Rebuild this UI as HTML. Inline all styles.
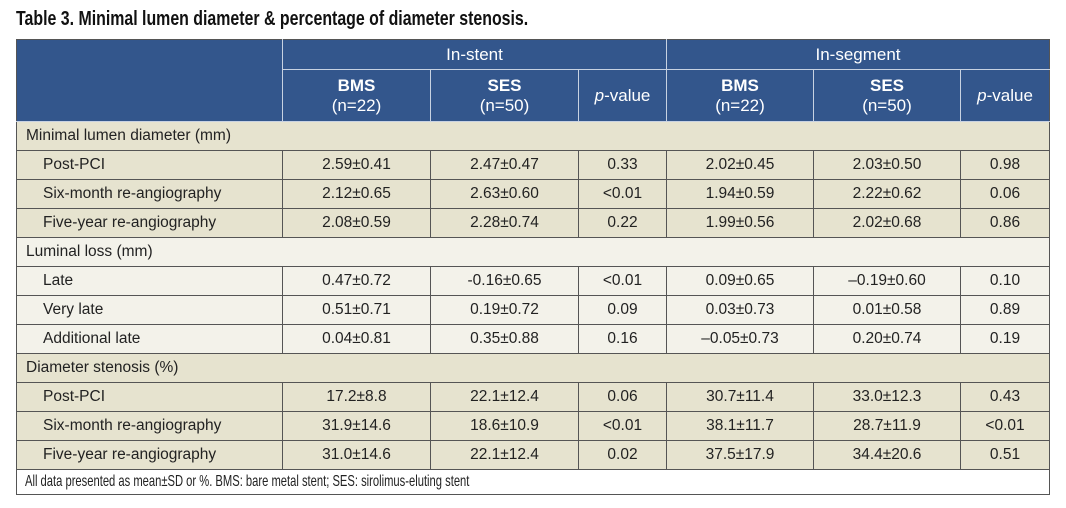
<!DOCTYPE html>
<html><head><style>
body{margin:0;background:#fff;width:1066px;height:508px;overflow:hidden;font-family:"Liberation Sans",sans-serif;}
.title{position:absolute;left:16px;top:8px;font-weight:bold;font-size:20px;color:#111;transform:scaleX(0.795);transform-origin:0 0;white-space:nowrap;}
table{position:absolute;left:16px;top:39px;border-collapse:collapse;table-layout:fixed;width:1033px;font-size:15.5px;color:#222;}
td{border:1px solid #555;padding:0;text-align:center;white-space:nowrap;overflow:hidden;}
.h td{background:#33568c;color:#fff;border-color:#c8d2e2;font-size:17px;}
.h td.t{border-top:1px solid #555;}
.s td{text-align:left;padding-left:9px;}
td.l{text-align:left;padding-left:26px;}
.b td{background:#e6e3cf;}
.w td{background:#f3f2ea;}
.f td{background:#fff;text-align:left;padding-left:8px;font-size:16px;}
.f span{display:inline-block;transform:scaleX(0.7);transform-origin:0 50%;}
tr.r{height:29px;}
</style></head><body>
<div class="title">Table 3. Minimal lumen diameter &amp; percentage of diameter stenosis.</div>
<table>
<colgroup><col style="width:266px"><col style="width:148px"><col style="width:148px"><col style="width:88px"><col style="width:147px"><col style="width:147px"><col style="width:89px"></colgroup>
<tr class="h" style="height:30px"><td rowspan="2" class="t" style="border-left-color:#555"></td><td colspan="3" class="t">In-stent</td><td colspan="3" class="t" style="border-right-color:#555">In-segment</td></tr>
<tr class="h" style="height:52px"><td><b>BMS</b><br>(n=22)</td><td><b>SES</b><br>(n=50)</td><td><i>p</i>-value</td><td><b>BMS</b><br>(n=22)</td><td><b>SES</b><br>(n=50)</td><td style="border-right-color:#555"><i>p</i>-value</td></tr>
<tr class="r b s"><td colspan="7">Minimal lumen diameter (mm)</td></tr>
<tr class="r b"><td class="l">Post-PCI</td><td>2.59±0.41</td><td>2.47±0.47</td><td>0.33</td><td>2.02±0.45</td><td>2.03±0.50</td><td>0.98</td></tr>
<tr class="r b"><td class="l">Six-month re-angiography</td><td>2.12±0.65</td><td>2.63±0.60</td><td>&lt;0.01</td><td>1.94±0.59</td><td>2.22±0.62</td><td>0.06</td></tr>
<tr class="r b"><td class="l">Five-year re-angiography</td><td>2.08±0.59</td><td>2.28±0.74</td><td>0.22</td><td>1.99±0.56</td><td>2.02±0.68</td><td>0.86</td></tr>
<tr class="r w s"><td colspan="7">Luminal loss (mm)</td></tr>
<tr class="r w"><td class="l">Late</td><td>0.47±0.72</td><td>-0.16±0.65</td><td>&lt;0.01</td><td>0.09±0.65</td><td>–0.19±0.60</td><td>0.10</td></tr>
<tr class="r w"><td class="l">Very late</td><td>0.51±0.71</td><td>0.19±0.72</td><td>0.09</td><td>0.03±0.73</td><td>0.01±0.58</td><td>0.89</td></tr>
<tr class="r w"><td class="l">Additional late</td><td>0.04±0.81</td><td>0.35±0.88</td><td>0.16</td><td>–0.05±0.73</td><td>0.20±0.74</td><td>0.19</td></tr>
<tr class="r b s"><td colspan="7">Diameter stenosis (%)</td></tr>
<tr class="r b"><td class="l">Post-PCI</td><td>17.2±8.8</td><td>22.1±12.4</td><td>0.06</td><td>30.7±11.4</td><td>33.0±12.3</td><td>0.43</td></tr>
<tr class="r b"><td class="l">Six-month re-angiography</td><td>31.9±14.6</td><td>18.6±10.9</td><td>&lt;0.01</td><td>38.1±11.7</td><td>28.7±11.9</td><td>&lt;0.01</td></tr>
<tr class="r b"><td class="l">Five-year re-angiography</td><td>31.0±14.6</td><td>22.1±12.4</td><td>0.02</td><td>37.5±17.9</td><td>34.4±20.6</td><td>0.51</td></tr>
<tr class="f" style="height:25px"><td colspan="7"><span>All data presented as mean±SD or %. BMS: bare metal stent; SES: sirolimus-eluting stent</span></td></tr>
</table>
</body></html>
